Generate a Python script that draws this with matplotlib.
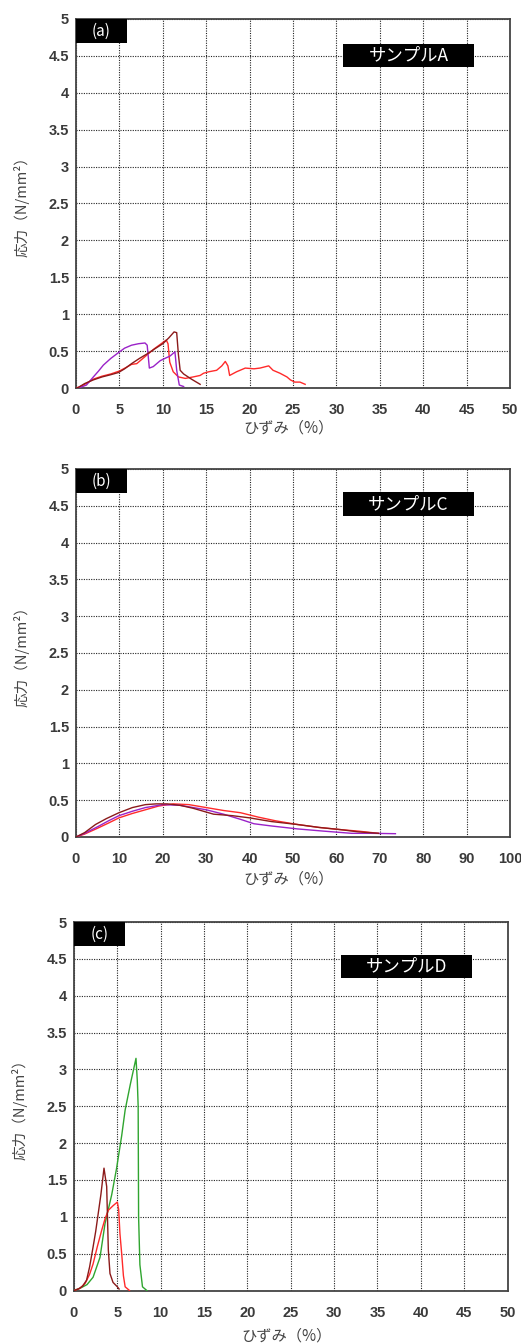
import matplotlib
matplotlib.use('Agg')
from matplotlib import pyplot as plt
from matplotlib.patches import Rectangle
import numpy as np

JP = ['Noto Sans CJK JP', 'DejaVu Sans']

# colours of the curves
c_dred = '#8B1A1A'
c_red = '#FF2A2A'
c_purple = '#9A22C8'
c_green = '#2FA52F'

# (a) サンプルA
a_dred_x = [0, 0.3, 1.0, 2.0, 3.0, 4.0, 4.9, 5.6, 6.4, 7.3, 8.3, 9.2, 10.0, 10.7, 11.3, 11.6, 11.8, 12.0, 12.4, 13.3, 14.3]
a_dred_y = [0, 0.01, 0.06, 0.11, 0.15, 0.18, 0.21, 0.26, 0.33, 0.40, 0.47, 0.54, 0.60, 0.68, 0.76, 0.75, 0.45, 0.24, 0.19, 0.12, 0.05]
a_red_x = [0, 0.3, 1.0, 2.0, 3.0, 4.0, 5.0, 5.8, 6.4, 7.0, 7.5, 8.3, 9.0, 9.7, 10.4, 10.6, 10.8, 11.2, 11.8, 12.6,
           13.5, 14.3, 14.7, 15.3, 16.2, 16.8, 17.2, 17.5, 17.7, 18.5, 19.5, 20.5, 21.2, 22.2, 22.7, 23.5, 24.3,
           24.7, 25.2, 25.8, 26.4]
a_red_y = [0, 0.01, 0.05, 0.12, 0.16, 0.19, 0.23, 0.28, 0.32, 0.33, 0.38, 0.46, 0.53, 0.59, 0.65, 0.60, 0.35, 0.22,
           0.15, 0.13, 0.15, 0.17, 0.20, 0.22, 0.24, 0.30, 0.36, 0.30, 0.17, 0.22, 0.27, 0.26, 0.27, 0.30, 0.24, 0.20,
           0.15, 0.11, 0.08, 0.08, 0.05]
a_purple_x = [0, 0.3, 1.2, 2.0, 2.6, 3.15, 4.0, 4.9, 5.6, 6.4, 7.2, 7.95, 8.2, 8.45, 8.9, 9.7, 10.4, 10.8, 11.4,
              11.6, 11.9, 12.4]
a_purple_y = [0, 0.0, 0.04, 0.15, 0.23, 0.31, 0.40, 0.48, 0.54, 0.58, 0.60, 0.61, 0.58, 0.27, 0.29, 0.37, 0.41,
              0.43, 0.49, 0.24, 0.04, 0.02]

# (b) サンプルC
b_dred_x = [0, 2, 4.5, 7, 9.9, 13, 16, 18.5, 21, 24, 27, 31.7, 36, 40, 45, 51, 56, 61, 65, 69.7]
b_dred_y = [0, 0.06, 0.17, 0.25, 0.33, 0.40, 0.44, 0.45, 0.45, 0.43, 0.39, 0.31, 0.29, 0.26, 0.21, 0.17, 0.13,
            0.10, 0.07, 0.05]
b_red_x = [0, 2, 5, 7.5, 9.9, 13, 16, 19, 22.4, 26, 30, 34, 37.9, 42, 46, 51, 56, 61, 65, 69.7]
b_red_y = [0, 0.04, 0.12, 0.19, 0.26, 0.32, 0.37, 0.42, 0.45, 0.44, 0.40, 0.36, 0.33, 0.27, 0.22, 0.17, 0.13, 0.10,
           0.08, 0.05]
b_purple_x = [0, 2, 5, 7.5, 9.9, 13, 16, 20, 24, 27, 30, 34, 37.9, 41, 45, 51, 57, 63.5, 68, 73.6]
b_purple_y = [0, 0.05, 0.14, 0.22, 0.29, 0.35, 0.40, 0.44, 0.43, 0.40, 0.37, 0.31, 0.24, 0.18, 0.15, 0.11, 0.08,
              0.05, 0.05, 0.045]

# (c) サンプルD
c_dred_x = [0, 0.5, 1.0, 1.45, 1.8, 2.2, 2.5, 2.8, 3.1, 3.46, 3.77, 3.96, 4.15, 4.5, 5.0, 5.2]
c_dred_y = [0, 0.02, 0.06, 0.14, 0.32, 0.59, 0.80, 1.05, 1.30, 1.66, 1.41, 0.55, 0.23, 0.11, 0.05, 0.02]
c_red_x = [0, 0.7, 1.3, 1.8, 2.2, 2.7, 3.2, 3.6, 3.97, 4.5, 5.0, 5.15, 5.3, 5.5, 5.7, 5.9, 6.4]
c_red_y = [0, 0.03, 0.1, 0.22, 0.36, 0.60, 0.82, 0.98, 1.09, 1.15, 1.20, 1.10, 0.77, 0.50, 0.20, 0.05, 0.0]
c_green_x = [0, 0.7, 1.5, 2.2, 3.0, 3.58, 4.35, 4.9, 5.5, 5.9, 6.5, 7.15, 7.3, 7.4, 7.45, 7.6, 7.9, 8.4]
c_green_y = [0, 0.03, 0.08, 0.18, 0.45, 0.91, 1.30, 1.65, 2.10, 2.45, 2.80, 3.15, 2.85, 2.5, 1.0, 0.35, 0.05, 0.0]

panels = [
    dict(tag='(a)', name='サンプルA', xmax=50, xstep=5,
         series=[(a_red_x, a_red_y, c_red), (a_purple_x, a_purple_y, c_purple), (a_dred_x, a_dred_y, c_dred)],
         rect=[76 / 521, (1344 - 388) / 1344, 434 / 521, 369 / 1344], box_y=(0.870, 0.932), xlab_y=-0.085),
    dict(tag='(b)', name='サンプルC', xmax=100, xstep=10,
         series=[(b_red_x, b_red_y, c_red), (b_purple_x, b_purple_y, c_purple), (b_dred_x, b_dred_y, c_dred)],
         rect=[76 / 521, (1344 - 837) / 1344, 434 / 521, 368 / 1344], box_y=(0.873, 0.937), xlab_y=-0.09),
    dict(tag='(c)', name='サンプルD', xmax=50, xstep=5,
         series=[(c_green_x, c_green_y, c_green), (c_red_x, c_red_y, c_red), (c_dred_x, c_dred_y, c_dred)],
         rect=[74 / 521, (1344 - 1290.5) / 1344, 433.5 / 521, 368.5 / 1344], box_y=(0.847, 0.910), xlab_y=-0.1),
]

fig = plt.figure(figsize=(5.21, 13.44), dpi=100)

for p in panels:
    ax = fig.add_axes(p['rect'])
    for xs, ys, col in p['series']:
        ax.plot(xs, ys, color=col, lw=1.0, zorder=3)

    ax.set_xlim(0, p['xmax'])
    ax.set_ylim(0, 5)
    ax.set_xticks(np.arange(0, p['xmax'] + 1, p['xstep']))
    ax.set_yticks(np.arange(0, 5.01, 0.5))
    ax.set_yticklabels(['0', '0.5', '1', '1.5', '2', '2.5', '3', '3.5', '4', '4.5', '5'])
    ax.tick_params(length=0, labelsize=10.5, labelcolor='#3a3a3a')
    ax.tick_params(axis='x', pad=11)
    ax.tick_params(axis='y', pad=5)
    for lab in ax.get_xticklabels() + ax.get_yticklabels():
        lab.set_family('Liberation Sans')
        lab.set_fontweight('bold')
    ax.grid(True, color='#222222', linestyle=(0, (1, 1.2)), linewidth=0.8, zorder=1)
    for s in ax.spines.values():
        s.set_color('#444444')
        s.set_linewidth(1.3)

    ax.set_ylabel('応力（N/mm²）', family=JP, fontsize=10.5, color='#444444')
    ax.yaxis.set_label_coords(-0.108, 0.5)
    ax.set_xlabel('ひずみ（%）', family=JP, fontsize=11, color='#444444')
    ax.xaxis.set_label_coords(0.49, p['xlab_y'])

    # tag box at top-left
    ax.add_patch(Rectangle((0, 0.935), 0.117, 0.065, transform=ax.transAxes,
                           facecolor='black', edgecolor='none', zorder=5, clip_on=False))
    ax.text(0.058, 0.967, p['tag'], transform=ax.transAxes, ha='center', va='center',
            color='white', fontsize=11, family=JP, zorder=6)

    # sample name box
    y0, y1 = p['box_y']
    ax.add_patch(Rectangle((0.615, y0), 0.302, y1 - y0, transform=ax.transAxes,
                           facecolor='black', edgecolor='none', zorder=5))
    ax.text(0.766, (y0 + y1) / 2, p['name'], transform=ax.transAxes, ha='center', va='center',
            color='white', fontsize=12.5, family=JP, zorder=6)

fig.savefig('out.png', dpi=100)
